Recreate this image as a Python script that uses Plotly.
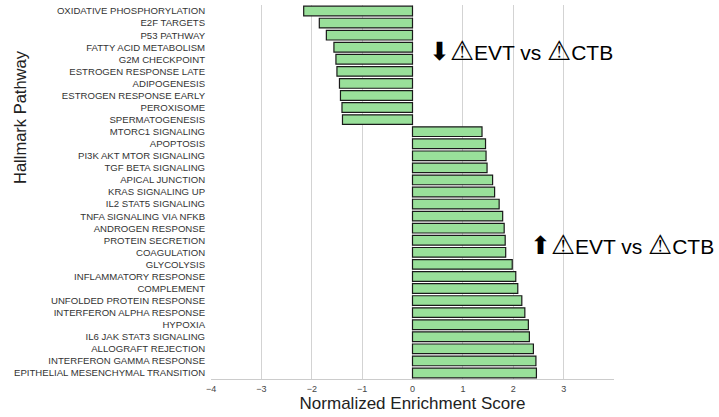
import plotly.graph_objects as go

# Hallmark pathways, ordered top to bottom
pathways = [
    "OXIDATIVE PHOSPHORYLATION", "E2F TARGETS", "P53 PATHWAY",
    "FATTY ACID METABOLISM", "G2M CHECKPOINT", "ESTROGEN RESPONSE LATE",
    "ADIPOGENESIS", "ESTROGEN RESPONSE EARLY", "PEROXISOME", "SPERMATOGENESIS",
    "MTORC1 SIGNALING", "APOPTOSIS", "PI3K AKT MTOR SIGNALING",
    "TGF BETA SIGNALING", "APICAL JUNCTION", "KRAS SIGNALING UP",
    "IL2 STAT5 SIGNALING", "TNFA SIGNALING VIA NFKB", "ANDROGEN RESPONSE",
    "PROTEIN SECRETION", "COAGULATION", "GLYCOLYSIS", "INFLAMMATORY RESPONSE",
    "COMPLEMENT", "UNFOLDED PROTEIN RESPONSE", "INTERFERON ALPHA RESPONSE",
    "HYPOXIA", "IL6 JAK STAT3 SIGNALING", "ALLOGRAFT REJECTION",
    "INTERFERON GAMMA RESPONSE", "EPITHELIAL MESENCHYMAL TRANSITION",
]

# Normalized enrichment scores
nes = [
    -2.16, -1.85, -1.71, -1.56, -1.52, -1.50, -1.45, -1.43, -1.40, -1.39,
    1.38, 1.45, 1.46, 1.48, 1.59, 1.63, 1.72, 1.79, 1.82, 1.84, 1.85,
    1.98, 2.05, 2.09, 2.17, 2.23, 2.30, 2.32, 2.40, 2.45, 2.46,
]

x_ticks = [-4, -3, -2, -1, 0, 1, 2, 3]
x_tick_text = ["\u22124", "\u22123", "\u22122", "\u22121", "0", "1", "2", "3"]

TRI = '<span style="font-size:27px">\u26A0</span>'
down_label = '<span style="font-size:25px">\u2B07</span>' + TRI + "EVT vs " + TRI + "CTB"
up_label = '<span style="font-size:25px">\u2B06</span>' + TRI + "EVT vs " + TRI + "CTB"

FONT = "Liberation Sans, Arial, sans-serif"
n = len(pathways)

# plot area in pixels
L, R, T, B = 211, 105, 5, 38
W, H = 719, 417
plot_w = W - L - R
plot_h = H - T - B

fig = go.Figure(
    go.Bar(
        x=nes,
        y=list(range(n)),
        orientation="h",
        marker=dict(color="#99E09A", line=dict(color="#1a1a1a", width=1.2)),
        hoverinfo="skip",
    )
)

fig.update_layout(
    width=W,
    height=H,
    margin=dict(l=L, r=R, t=T, b=B),
    paper_bgcolor="white",
    plot_bgcolor="white",
    bargap=0.2,
    showlegend=False,
    font=dict(family=FONT, color="#333333"),
    xaxis=dict(
        range=[-4, 4],
        tickvals=x_ticks,
        ticktext=x_tick_text,
        tickfont=dict(size=9, color="#444444"),
        showgrid=True,
        gridcolor="#d3d3d3",
        gridwidth=1,
        zeroline=False,
        showline=True,
        linecolor="#cccccc",
        linewidth=1,
        ticks="outside",
        ticklen=1,
        tickcolor="rgba(0,0,0,0)",
        title=dict(text="Normalized Enrichment Score",
                   font=dict(size=17, color="#222222"), standoff=3),
    ),
    yaxis=dict(
        range=[n - 0.5, -0.5],
        tickvals=list(range(n)),
        ticktext=pathways,
        tickfont=dict(size=9.6, color="#333333"),
        showgrid=False,
        zeroline=False,
        showline=False,
        ticks="outside",
        ticklen=3,
        tickcolor="rgba(0,0,0,0)",
    ),
    annotations=[
        dict(text=down_label, x=0.284, y=3.33, xref="x", yref="y",
             xanchor="left", yanchor="middle", showarrow=False,
             font=dict(size=21, color="black", family=FONT)),
        dict(text=up_label, x=2.29, y=19.4, xref="x", yref="y",
             xanchor="left", yanchor="middle", showarrow=False,
             font=dict(size=21, color="black", family=FONT)),
        dict(text="Hallmark Pathway",
             x=(20 - L) / plot_w, y=(H - B - 117) / plot_h,
             xref="paper", yref="paper",
             xanchor="center", yanchor="middle",
             showarrow=False, textangle=-90,
             font=dict(size=16.5, color="#222222", family=FONT)),
    ],
)

fig.write_html("out.html")
